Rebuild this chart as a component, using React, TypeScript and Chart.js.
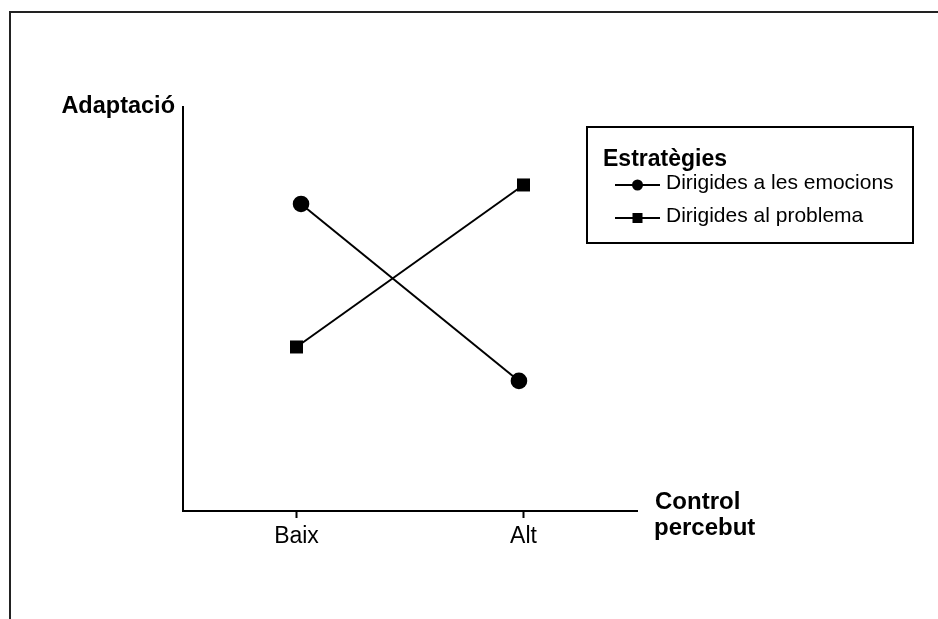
import React, { useEffect, useRef } from "react";
import { Chart, registerables } from "chart.js";

Chart.register(...registerables);

// ---- data ----
const categories = ["Baix", "Alt"];
const seriesLabels = ["Dirigides a les emocions", "Dirigides al problema"];
const emotionsX = [0.02, 0.98];
const emotionsY = [7.6, 3.22];
const problemX = [0, 1];
const problemY = [4.06, 8.07];
const yAxisTitle = "Adaptació";
const xAxisTitle = ["Control", "percebut"];
const legendTitle = "Estratègies";

const FONT = '"Liberation Sans", Arial, Helvetica, sans-serif';

const framePlugin = {
  id: "frame",
  beforeDraw(chart: any) {
    const ctx = chart.ctx;
    ctx.save();
    ctx.strokeStyle = "#222";
    ctx.lineWidth = 2;
    ctx.beginPath();
    ctx.moveTo(10, 619);
    ctx.lineTo(10, 12);
    ctx.lineTo(938, 12);
    ctx.stroke();
    ctx.restore();
  },
};

const textPlugin = {
  id: "texts",
  afterDraw(chart: any) {
    const ctx = chart.ctx;
    const area = chart.chartArea;
    ctx.save();
    ctx.fillStyle = "#000";
    ctx.font = `bold 23.5px ${FONT}`;
    ctx.textBaseline = "alphabetic";
    ctx.textAlign = "right";
    ctx.fillText(yAxisTitle, area.left - 8, area.top + 6);
    ctx.textAlign = "left";
    ctx.font = `bold 24px ${FONT}`;
    ctx.fillText(xAxisTitle[0], area.right + 18, area.bottom - 2);
    ctx.fillText(xAxisTitle[1], area.right + 17, area.bottom + 24);

    // legend box
    const bx = 587, by = 127, bw = 326, bh = 116;
    ctx.strokeStyle = "#000";
    ctx.lineWidth = 2;
    ctx.strokeRect(bx, by, bw, bh);
    ctx.font = `bold 23px ${FONT}`;
    ctx.fillText(legendTitle, bx + 16, by + 39);

    ctx.font = `21px ${FONT}`;
    chart.data.datasets.forEach((ds: any, i: number) => {
      const ly = by + 58 + i * 33;
      const x0 = bx + 28, x1 = bx + 73, cx = (x0 + x1) / 2;
      ctx.strokeStyle = ds.borderColor;
      ctx.lineWidth = 2;
      ctx.beginPath();
      ctx.moveTo(x0, ly);
      ctx.lineTo(x1, ly);
      ctx.stroke();
      ctx.fillStyle = ds.pointBackgroundColor;
      if (ds.pointStyle === "rect") {
        ctx.fillRect(cx - 5, ly - 5, 10, 10);
      } else {
        ctx.beginPath();
        ctx.arc(cx, ly, 5.5, 0, Math.PI * 2);
        ctx.fill();
      }
      ctx.fillStyle = "#000";
      ctx.textAlign = "left";
      ctx.fillText(ds.label, x1 + 6, ly + 4);
    });
    ctx.restore();
  },
};

export default function App() {
  const ref = useRef<HTMLCanvasElement>(null);
  useEffect(() => {
    if (!ref.current) return;
    const chart = new Chart(ref.current, {
      type: "line",
      data: {
        datasets: [
          {
            label: seriesLabels[0],
            data: emotionsX.map((x, i) => ({ x, y: emotionsY[i] })),
            borderColor: "#000",
            borderWidth: 2,
            pointStyle: "circle",
            pointRadius: 8.3,
            pointBorderWidth: 0,
            pointBackgroundColor: "#000",
            fill: false,
          },
          {
            label: seriesLabels[1],
            data: problemX.map((x, i) => ({ x, y: problemY[i] })),
            borderColor: "#000",
            borderWidth: 2,
            pointStyle: "rect",
            pointRadius: 9.2,
            pointBorderWidth: 0,
            pointBackgroundColor: "#000",
            fill: false,
          },
        ],
      },
      options: {
        animation: false,
        responsive: false,
        events: [],
        layout: { padding: { left: 0, top: 107, right: 301, bottom: 0 } },
        plugins: { legend: { display: false }, tooltip: { enabled: false } },
        scales: {
          x: {
            type: "linear",
            min: -0.5,
            max: 1.5,
            afterBuildTicks: (s: any) => {
              s.ticks = categories.map((_, i) => ({ value: i }));
            },
            afterFit: (s: any) => {
              s.height = 108;
            },
            ticks: {
              color: "#000",
              font: { family: FONT, size: 23 },
              padding: 5,
              maxRotation: 0,
              autoSkip: false,
              callback: (v: any) => categories[v as number] ?? "",
            },
            grid: {
              drawOnChartArea: false,
              drawTicks: true,
              tickLength: 7,
              tickWidth: 2,
              tickColor: "#000",
            },
            border: { display: true, color: "#000", width: 2 },
          },
          y: {
            type: "linear",
            min: 0,
            max: 10,
            afterFit: (s: any) => {
              s.width = 183;
            },
            ticks: { display: false },
            grid: { drawOnChartArea: false, drawTicks: false },
            border: { display: true, color: "#000", width: 2 },
          },
        },
      },
      plugins: [framePlugin, textPlugin],
    });
    return () => chart.destroy();
  }, []);
  return (
    <div style={{ position: "fixed", left: 0, top: 0, width: 938, height: 619, background: "#fff" }}>
      <canvas ref={ref} width={938} height={619} style={{ display: "block" }} />
    </div>
  );
}
